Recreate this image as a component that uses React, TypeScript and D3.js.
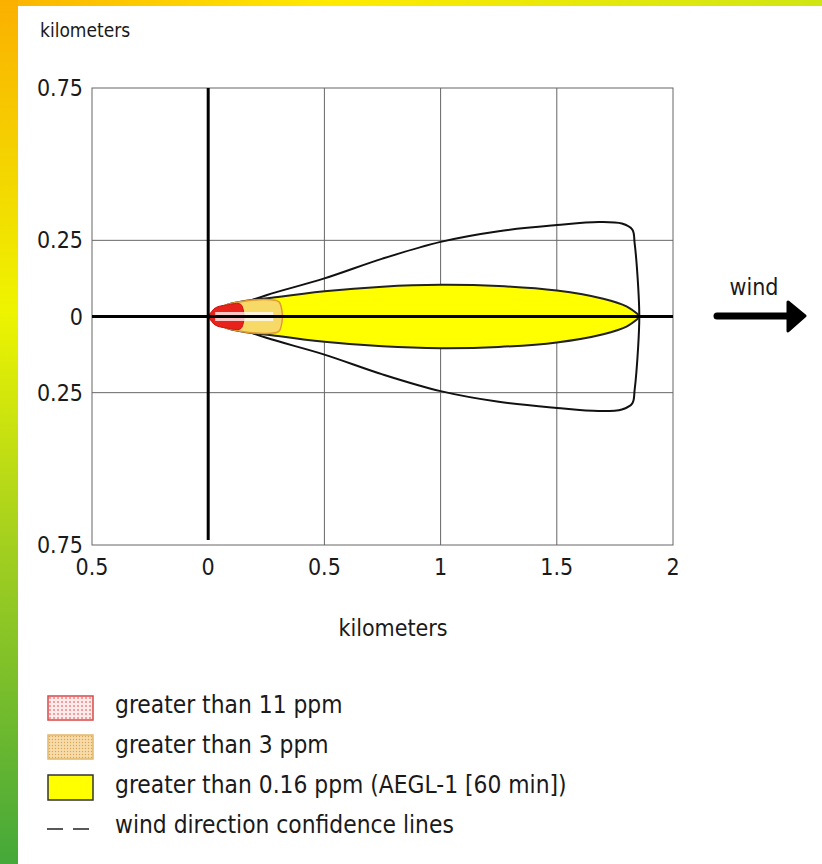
import React from "react";
import * as d3 from "d3";

// axis ticks (labels shown as absolute distances)
const xTicks = [-0.5, 0, 0.5, 1, 1.5, 2];
const yTicks = [0.75, 0.25, 0, -0.25, -0.75];

// wind direction confidence envelope [km downwind, km crosswind]
const confidence: [number, number][] = [
  [0, 0], [0.1, 0.03], [0.25, 0.07], [0.5, 0.125], [0.75, 0.19], [1, 0.245],
  [1.25, 0.28], [1.5, 0.3], [1.68, 0.31], [1.78, 0.305], [1.825, 0.285],
  [1.835, 0.24], [1.85, 0.1], [1.855, 0], [1.85, -0.1], [1.835, -0.24],
  [1.825, -0.285], [1.78, -0.305], [1.68, -0.31], [1.5, -0.3], [1.25, -0.28],
  [1, -0.245], [0.75, -0.19], [0.5, -0.125], [0.25, -0.07], [0.1, -0.03], [0, 0],
];

// threat zones: downwind distance and half-width (km)
const yellowX = [0, 0.08, 0.3, 0.5, 0.75, 1, 1.25, 1.5, 1.7, 1.8, 1.86];
const yellowHW = [0, 0.038, 0.064, 0.083, 0.098, 0.104, 0.1, 0.085, 0.058, 0.033, 0];
const orangeX = [0, 0.05, 0.15, 0.27, 0.305, 0.32];
const orangeHW = [0, 0.03, 0.05, 0.055, 0.048, 0];
const redX = [0, 0.03, 0.08, 0.14, 0.155];
const redHW = [0, 0.028, 0.038, 0.04, 0];

const legendItems = [
  "greater than 11 ppm",
  "greater than 3 ppm",
  "greater than 0.16 ppm (AEGL-1 [60 min])",
  "wind direction confidence lines",
];

const font = "'DejaVu Sans Condensed', 'DejaVu Sans', sans-serif";
const ink = "#1a1a1a";

export default function App() {
  const W = 822;
  const H = 864;
  const plot = { left: 92, right: 673, top: 88, bottom: 545 };

  const x = d3.scaleLinear().domain([-0.5, 2]).range([plot.left, plot.right]);
  const y = d3.scaleLinear().domain([-0.75, 0.75]).range([plot.bottom, plot.top]);

  const envLine = d3
    .line<[number, number]>()
    .x((d) => x(d[0]))
    .y((d) => y(d[1]))
    .curve(d3.curveCatmullRom.alpha(0.5));

  const zone = (xs: number[], hw: number[]) =>
    d3
      .area<number>()
      .x((_, i) => x(xs[i]))
      .y0((_, i) => y(-hw[i]))
      .y1((_, i) => y(hw[i]))
      .curve(d3.curveCatmullRom.alpha(0.5))(hw.map((_, i) => i)) || "";

  const fmt = (v: number) => (v === 0 ? "0" : String(Math.abs(v)));

  return (
    <svg
      width={W}
      height={H}
      style={{ position: "absolute", left: 0, top: 0 }}
      fontFamily={font}
    >
      <defs>
        <linearGradient id="leftBar" x1="0" y1="0" x2="0" y2="1">
          <stop offset="0" stopColor="#fbb000" />
          <stop offset="0.36" stopColor="#eef400" />
          <stop offset="0.62" stopColor="#a6d11e" />
          <stop offset="1" stopColor="#45a83a" />
        </linearGradient>
        <linearGradient id="topBar" x1="0" y1="0" x2="1" y2="0">
          <stop offset="0" stopColor="#fbb300" />
          <stop offset="0.4" stopColor="#ffea00" />
          <stop offset="1" stopColor="#cfe614" />
        </linearGradient>
        <pattern id="redDots" width="4" height="4" patternUnits="userSpaceOnUse">
          <rect width="4" height="4" fill="#fdeaea" />
          <circle cx="2" cy="2" r="0.8" fill="#e04040" />
        </pattern>
        <pattern id="tanDots" width="3" height="3" patternUnits="userSpaceOnUse">
          <rect width="3" height="3" fill="#f7dcaa" />
          <circle cx="1.5" cy="1.5" r="0.7" fill="#d9a455" />
        </pattern>
      </defs>

      {/* frame */}
      <rect width={W} height={H} fill="#fff" />
      <rect x={0} y={0} width={W} height={6} fill="url(#topBar)" />
      <rect x={0} y={0} width={18} height={H} fill="url(#leftBar)" />

      <text x={40} y={37} fontSize={19} fill={ink}>kilometers</text>

      {/* grid */}
      <rect
        x={plot.left}
        y={plot.top}
        width={plot.right - plot.left}
        height={plot.bottom - plot.top}
        fill="none"
        stroke="#666"
        strokeWidth={1}
      />
      {xTicks.filter((t) => t > 0 && t < 2).map((t) => (
        <line key={"gx" + t} x1={x(t)} x2={x(t)} y1={plot.top} y2={plot.bottom} stroke="#666" />
      ))}
      {yTicks.filter((t) => Math.abs(t) === 0.25).map((t) => (
        <line key={"gy" + t} x1={plot.left} x2={plot.right} y1={y(t)} y2={y(t)} stroke="#666" />
      ))}

      {/* tick labels */}
      {yTicks.map((t) => (
        <text key={"ty" + t} x={83} y={y(t)} dy="0.35em" textAnchor="end" fontSize={23} fill={ink}>
          {fmt(t)}
        </text>
      ))}
      {xTicks.map((t) => (
        <text key={"tx" + t} x={x(t)} y={575} textAnchor="middle" fontSize={23} fill={ink}>
          {fmt(t)}
        </text>
      ))}
      <text x={393} y={636} textAnchor="middle" fontSize={23} fill={ink}>kilometers</text>

      {/* plume */}
      <path d={envLine(confidence) || ""} fill="none" stroke="#111" strokeWidth={2} />
      <path d={zone(yellowX, yellowHW)} fill="#ffff00" stroke="#222" strokeWidth={2} />
      <path d={zone(orangeX, orangeHW)} fill="#f6d27a" fillOpacity={0.85} stroke="#e39a30" strokeWidth={1.5} />
      <path d={zone(redX, redHW)} fill="#e8231b" stroke="#c81010" strokeWidth={1} />
      <line x1={x(0.03)} x2={x(0.28)} y1={y(0)} y2={y(0)} stroke="#fff" strokeWidth={9} opacity={0.75} />

      {/* axes through the source */}
      <line x1={x(-0.5)} x2={x(2)} y1={y(0)} y2={y(0)} stroke="#000" strokeWidth={3} />
      <line x1={x(0)} x2={x(0)} y1={plot.top} y2={plot.bottom - 5} stroke="#000" strokeWidth={3} />

      {/* wind arrow */}
      <text x={754} y={295} textAnchor="middle" fontSize={23} fill={ink}>wind</text>
      <line x1={717} x2={792} y1={316} y2={316} stroke="#000" strokeWidth={7} strokeLinecap="round" />
      <path d="M788,302 L805,316 L788,331 Z" fill="#000" stroke="#000" strokeWidth={3} strokeLinejoin="round" />

      {/* legend */}
      <rect x={48} y={696} width={45} height={24} fill="url(#redDots)" stroke="#d84848" strokeWidth={1.5} />
      <rect x={48} y={735} width={45} height={24} fill="url(#tanDots)" stroke="#e2b86a" strokeWidth={1.5} />
      <rect x={48} y={775} width={45} height={25} fill="#ffff00" stroke="#333" strokeWidth={1.5} />
      <line x1={47} x2={90} y1={829} y2={829} stroke="#222" strokeWidth={1.5} strokeDasharray="16,10" />
      {legendItems.map((s, i) => (
        <text key={s} x={115} y={713 + i * 40} fontSize={24.3} fill={ink}>
          {s}
        </text>
      ))}
    </svg>
  );
}
